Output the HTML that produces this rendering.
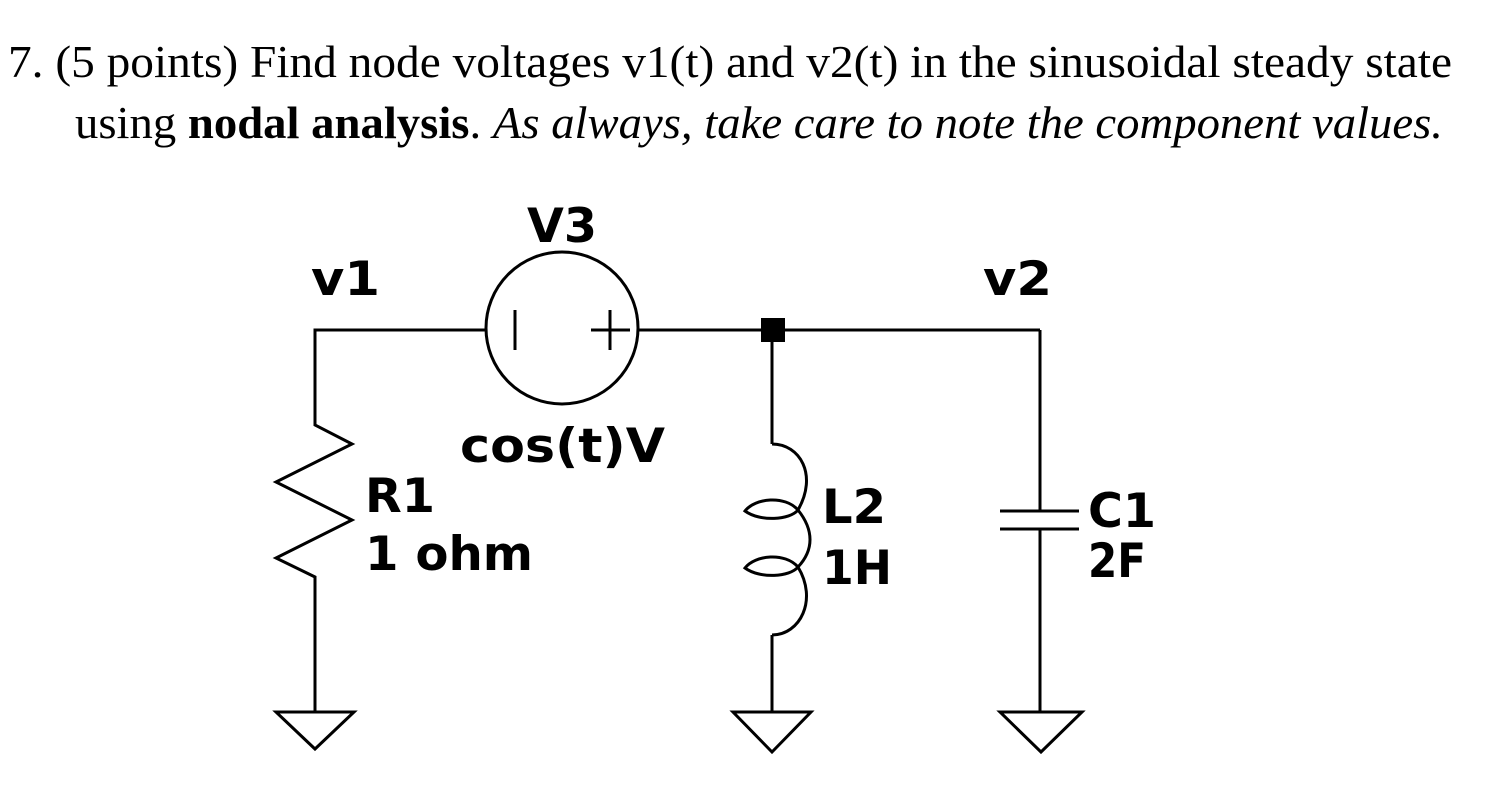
<!DOCTYPE html>
<html><head><style>
body{margin:0;background:#fff;}
svg{display:block}
.t{font-family:"Liberation Serif",serif;font-size:46px;fill:#000}
.l{font-family:"DejaVu Sans",sans-serif;font-weight:bold;font-size:47px;fill:#000}
</style></head><body>
<svg width="1495" height="808" viewBox="0 0 1495 808">
<text class="t" x="8" y="77" textLength="1444" lengthAdjust="spacingAndGlyphs">7.  (5 points) Find node voltages v1(t) and v2(t) in the sinusoidal steady state</text>
<text class="t" x="75" y="138" textLength="1368" lengthAdjust="spacingAndGlyphs">using <tspan font-weight="bold">nodal analysis</tspan>. <tspan font-style="italic">As always, take care to note the component values.</tspan></text>
<g fill="none" stroke="#000" stroke-width="3">
<polyline points="315,712 315,577 276,558 352,520 276,482 352,444 315,425 315,330 486,330"/>
<circle cx="562" cy="328" r="76"/>
<line x1="515" y1="310" x2="515" y2="350"/>
<line x1="591" y1="330" x2="630" y2="330"/>
<line x1="610" y1="310" x2="610" y2="350"/>
<line x1="638" y1="330" x2="1040" y2="330"/>
<polyline points="1040,330 1040,511"/>
<line x1="1000" y1="511" x2="1079" y2="511"/>
<line x1="1000" y1="529" x2="1079" y2="529"/>
<line x1="1040" y1="529" x2="1040" y2="712"/>
<line x1="772" y1="330" x2="772" y2="444"/>
<path d="M772,444 C800,444 818,475 798,510 C814,530 814,550 798,567 C818,600 800,635 772,635"/>
<path d="M798,510 C785,495 755,498 745,511 C760,522 790,520 798,510"/>
<path d="M798,567 C785,552 755,555 745,568 C760,579 790,577 798,567"/>
<line x1="772" y1="635" x2="772" y2="712"/>
<polygon points="276,712 354,712 315,749"/>
<polygon points="733,712 811,712 772,752"/>
<polygon points="1000,712 1082,712 1041,752"/>
</g>
<rect x="761" y="318" width="24" height="24" fill="#000"/>
<text class="l" x="311" y="295" textLength="69" lengthAdjust="spacingAndGlyphs">v1</text>
<text class="l" x="527" y="242" textLength="70" lengthAdjust="spacingAndGlyphs">V3</text>
<text class="l" x="983" y="295" textLength="69" lengthAdjust="spacingAndGlyphs">v2</text>
<text class="l" x="460" y="462" textLength="205" lengthAdjust="spacingAndGlyphs">cos(t)V</text>
<text class="l" x="365" y="512" textLength="70" lengthAdjust="spacingAndGlyphs">R1</text>
<text class="l" x="365" y="570" textLength="168" lengthAdjust="spacingAndGlyphs">1 ohm</text>
<text class="l" x="822" y="523" textLength="64" lengthAdjust="spacingAndGlyphs">L2</text>
<text class="l" x="822" y="584" textLength="70" lengthAdjust="spacingAndGlyphs">1H</text>
<text class="l" x="1088" y="527" textLength="68" lengthAdjust="spacingAndGlyphs">C1</text>
<text class="l" x="1088" y="577" textLength="58" lengthAdjust="spacingAndGlyphs">2F</text>
</svg>
</body></html>
